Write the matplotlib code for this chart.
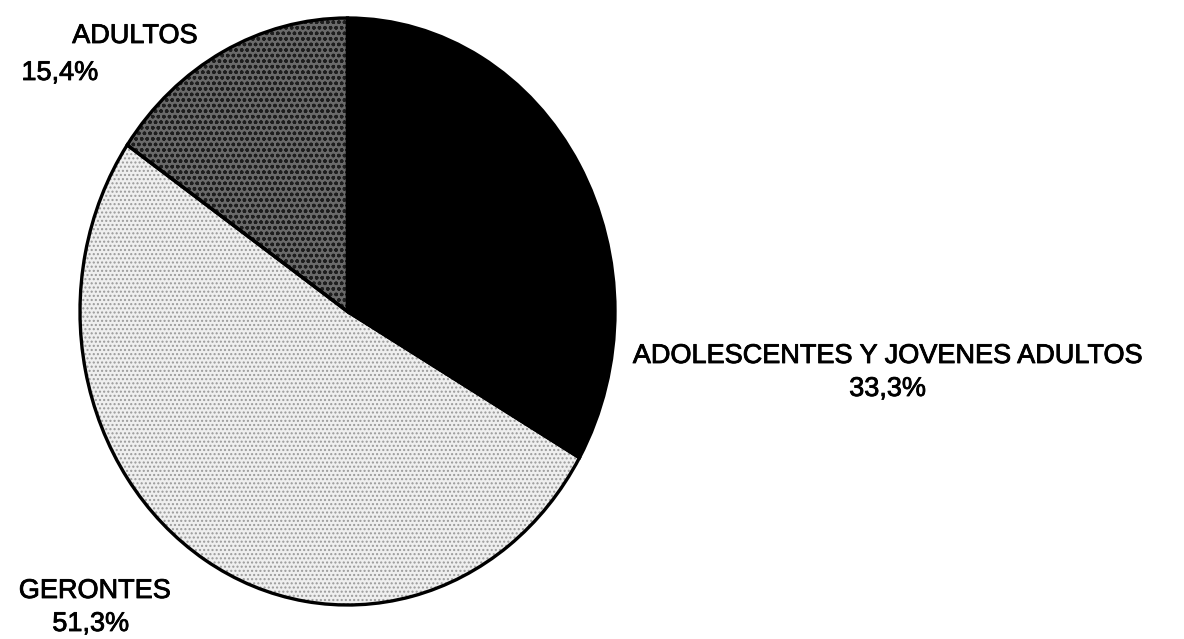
import matplotlib
matplotlib.use("Agg")
import matplotlib.pyplot as plt
import matplotlib.patheffects as pe

categories = ["ADOLESCENTES Y JOVENES ADULTOS", "GERONTES", "ADULTOS"]
values = [33.3, 51.3, 15.4]
pct_labels = ["33,3%", "51,3%", "15,4%"]
face_colors = ["#000000", "#efefef", "#6a6a6a"]
hatch_colors = ["#000000", "#9a9a9a", "#1e1e1e"]
hatches = [None, "....", "ooo"]

plt.rcParams['font.family'] = ['Liberation Sans', 'DejaVu Sans']

W, H = 1184, 639
fig = plt.figure(figsize=(W / 100, H / 100), dpi=100)
# ellipse bbox in pixels: x 80..615, y 18..605 (from top)
left, right, top, bottom = 80, 615, 18, 605
ax = fig.add_axes([left / W, (H - bottom) / H, (right - left) / W, (bottom - top) / H])

# textured fill layer
wedges, _ = ax.pie(values, startangle=90, counterclock=False,
                   colors=face_colors,
                   wedgeprops=dict(linewidth=0))
for w, h, hc in zip(wedges, hatches, hatch_colors):
    if h:
        w.set_hatch(h)
        w.set_edgecolor(hc)
        w.set_linewidth(0)
    w.set_clip_on(False)

# outline layer
outl, _ = ax.pie(values, startangle=90, counterclock=False,
                 colors=["none"] * len(values),
                 wedgeprops=dict(linewidth=2.4, edgecolor="black", fill=False))
for w in outl:
    w.set_clip_on(False)

ax.set_aspect('auto')
ax.set_xlim(-1, 1)
ax.set_ylim(-1, 1)
ax.axis('off')

fs = 19.5
eff = [pe.withStroke(linewidth=0.6, foreground="black")]
kw = dict(ha='center', va='center', fontsize=fs, color='black', path_effects=eff)
fig.text(888 / W, 1 - 356 / H, categories[0], **kw)
fig.text(888 / W, 1 - 389 / H, pct_labels[0], **kw)
fig.text(95 / W, 1 - 591 / H, categories[1], fontstretch='condensed', **kw)
fig.text(91 / W, 1 - 624 / H, pct_labels[1], **kw)
fig.text(135 / W, 1 - 36 / H, categories[2], **kw)
fig.text(60 / W, 1 - 73 / H, pct_labels[2], **kw)

fig.savefig("out.png", dpi=100, facecolor="white")
